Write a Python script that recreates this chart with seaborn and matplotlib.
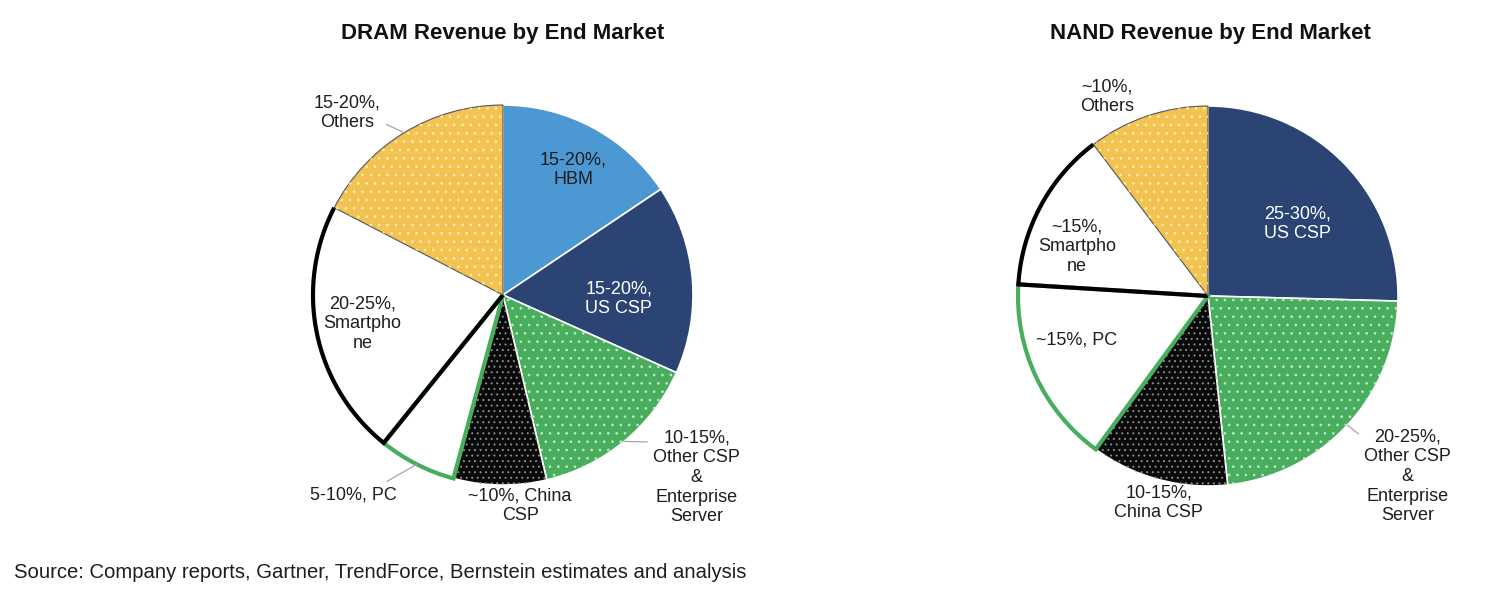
import numpy as np
import matplotlib
matplotlib.use("Agg")
import matplotlib.pyplot as plt
import matplotlib.patches as mpatches
import seaborn as sns

# Datos (porcentaje aproximado de cada segmento, sentido horario desde las 12)
dram_segments = ["HBM", "US CSP", "Other CSP", "China CSP", "PC", "Smartphone", "Others"]
dram_values = [15.6, 16.1, 14.6, 7.9, 6.6, 21.8, 17.4]
dram_labels = ["15-20%,\nHBM", "15-20%,\nUS CSP", "10-15%,\nOther CSP\n&\nEnterprise\nServer",
               "~10%, China\nCSP", "5-10%, PC", "20-25%,\nSmartpho\nne", "15-20%,\nOthers"]

nand_segments = ["US CSP", "Other CSP", "China CSP", "PC", "Smartphone", "Others"]
nand_values = [25.4, 22.9, 11.7, 15.9, 13.7, 10.3]
nand_labels = ["25-30%,\nUS CSP", "20-25%,\nOther CSP\n&\nEnterprise\nServer",
               "10-15%,\nChina CSP", "~15%, PC", "~15%,\nSmartpho\nne", "~10%,\nOthers"]

# Estilo de cada segmento: relleno, borde, grosor, trama, color de trama, color de texto
styles = {
    "HBM":        dict(fc="#4b98d2", ec="white", lw=1.2, hatch=None, hc=None, tc="#1e1e1e", z=1),
    "US CSP":     dict(fc="#2b4473", ec="white", lw=1.2, hatch=None, hc=None, tc="white", z=1),
    "Other CSP":  dict(fc="#49ad5e", ec="white", lw=1.2, hatch="..", hc="#bfe6c6", tc="#1e1e1e", z=1),
    "China CSP":  dict(fc="#0a0a0a", ec="white", lw=1.2, hatch="...", hc="#8c8c8c", tc="#1e1e1e", z=1),
    "PC":         dict(fc="white", ec="#49ad5e", lw=3.0, hatch=None, hc=None, tc="#1e1e1e", z=2),
    "Smartphone": dict(fc="white", ec="none", lw=0, hatch=None, hc=None, tc="#1e1e1e", z=1.5),
    "Others":     dict(fc="#f3c352", ec="#555555", lw=0.8, hatch="..", hc="#fdeab8", tc="#1e1e1e", z=4),
}

# Posicion de las etiquetas (unidades del radio) y punto de salida de la linea guia
dram_label_pos = {
    "HBM": ((0.37, 0.66), None),
    "US CSP": ((0.61, -0.02), None),
    "Other CSP": ((1.02, -0.96), (0.0, 0.87)),
    "China CSP": ((0.09, -1.11), None),
    "PC": ((-0.79, -1.05), (0.8, 1.0)),
    "Smartphone": ((-0.74, -0.15), None),
    "Others": ((-0.82, 0.96), (1.0, 0.25)),
}
nand_label_pos = {
    "US CSP": ((0.47, 0.38), None),
    "Other CSP": ((1.05, -0.95), (0.0, 0.9)),
    "China CSP": ((-0.26, -1.09), None),
    "PC": ((-0.69, -0.23), None),
    "Smartphone": ((-0.69, 0.26), None),
    "Others": ((-0.53, 1.05), None),
}

sns.set_theme(style="white")
plt.rcParams['font.family'] = ['Liberation Sans', 'DejaVu Sans']
plt.rcParams['hatch.linewidth'] = 0.7

fig = plt.figure(figsize=(15.12, 6.0), dpi=100)


def draw_pie(ax, segments, values, labels, label_pos):
    wedges, _ = ax.pie(values, startangle=90, counterclock=False, radius=1.0)
    for seg, w, lab in zip(segments, wedges, labels):
        st = styles[seg]
        w.set_facecolor(st["fc"])
        w.set_edgecolor(st["ec"])
        w.set_linewidth(st["lw"])
        w.set_zorder(st["z"])
        if st["hatch"]:
            # capa de trama de puntos encima del relleno
            over = mpatches.Wedge((0, 0), 1.0, w.theta1, w.theta2, fill=False,
                                  hatch=st["hatch"], edgecolor=st["hc"], lw=0,
                                  zorder=st["z"] + 0.5)
            ax.add_patch(over)
        if seg == "Smartphone":
            # contorno negro: radio hacia PC y arco exterior (sin el lado de Others)
            t = np.deg2rad(np.linspace(w.theta2, w.theta1, 100))
            xs = np.concatenate([[0], np.cos(t)])
            ys = np.concatenate([[0], np.sin(t)])
            ax.plot(xs, ys, color="black", lw=3.0, zorder=3, solid_capstyle="butt",
                    solid_joinstyle="miter")
        (tx, ty), rel = label_pos[seg]
        if rel is None:
            ax.text(tx, ty, lab, ha="center", va="center", fontsize=13,
                    color=st["tc"], zorder=10)
        else:
            mid = np.deg2rad((w.theta1 + w.theta2) / 2)
            ax.annotate(lab, xy=(np.cos(mid), np.sin(mid)), xytext=(tx, ty),
                        ha="center", va="center", fontsize=13, color="#1e1e1e",
                        arrowprops=dict(arrowstyle="-", color="#a6a6a6", lw=0.9,
                                        relpos=rel, shrinkA=2, shrinkB=0),
                        zorder=10)
    ax.set_xlim(-1.5, 1.5)
    ax.set_ylim(-1.5, 1.5)
    ax.set_aspect("equal")
    ax.axis("off")


ax1 = fig.add_axes([(503 - 285) / 1512, 20 / 600, 570 / 1512, 570 / 600])
draw_pie(ax1, dram_segments, dram_values, dram_labels, dram_label_pos)

ax2 = fig.add_axes([(1208 - 285) / 1512, 19 / 600, 570 / 1512, 570 / 600])
draw_pie(ax2, nand_segments, nand_values, nand_labels, nand_label_pos)

fig.text(503 / 1512, 1 - 34 / 600, "DRAM Revenue by End Market", ha="center", va="center",
         fontsize=16, fontweight="bold", color="#111111")
fig.text(1210 / 1512, 1 - 34 / 600, "NAND Revenue by End Market", ha="center", va="center",
         fontsize=16, fontweight="bold", color="#111111")
fig.text(14 / 1512, 1 - 572 / 600,
         "Source: Company reports, Gartner, TrendForce, Bernstein estimates and analysis",
         ha="left", va="center", fontsize=14.6, color="#1e1e1e")

fig.savefig("out.png", dpi=100, facecolor="white")
